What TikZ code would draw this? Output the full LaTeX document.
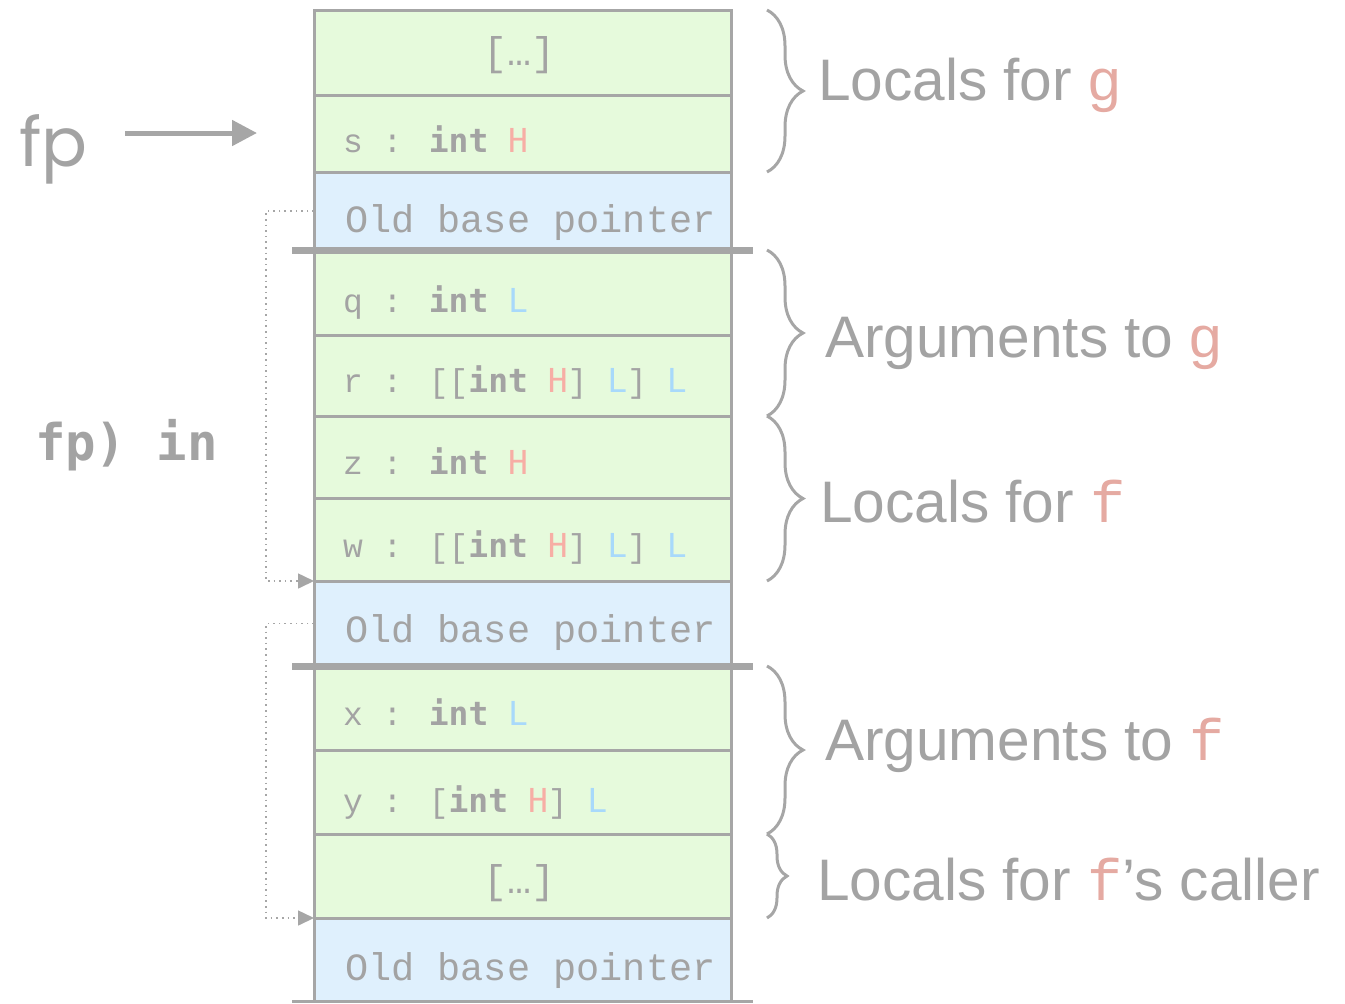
\documentclass[tikz,border=0pt]{standalone}
\usepackage{fontspec}
\setmainfont{Liberation Sans}
\newfontfamily\cellfont{Liberation Mono}
\newfontfamily\typefont{DejaVu Sans Mono}
\newfontfamily\fpfont{Poppins}
\usepackage{tikz}
\usetikzlibrary{arrows.meta, positioning, decorations.pathreplacing}
\definecolor{linegray}{HTML}{A6A6A6}
\definecolor{textgray}{HTML}{A3A3A3}
\definecolor{cellgreen}{HTML}{E6FADC}
\definecolor{cellblue}{HTML}{DFF0FD}
\definecolor{highred}{HTML}{F7AEA5}
\definecolor{lowblue}{HTML}{A8D9FB}
\definecolor{namered}{HTML}{E5AAA2}

\newcommand{\intty}{{\typefont\bfseries int}}
\newcommand{\highH}{{\typefont\color{highred}H}}
\newcommand{\lowL}{{\typefont\color{lowblue}L}}
\newcommand{\fname}[1]{{\cellfont\color{namered}#1}}

\begin{document}
\begin{tikzpicture}[
    x=0.5pt, y=-0.5pt,
    every node/.style={inner sep=0pt, outer sep=0pt, text=textgray},
    cellG/.style={rectangle, draw=linegray, line width=1.5pt, fill=cellgreen, anchor=north west, minimum width=208.5pt},
    cellB/.style={cellG, fill=cellblue},
    celltext/.style={anchor=base west, font=\cellfont\fontsize{16.5}{20}\selectfont},
    obptext/.style={anchor=base west, font=\cellfont\fontsize{19.3}{23}\selectfont},
    ellipsistext/.style={font=\cellfont\fontsize{20}{24}\selectfont},
    sepline/.style={draw=linegray, line width=3.5pt},
    bracelabel/.style={anchor=base west, font=\fontsize{29.3}{35}\selectfont},
    stackbrace/.style={draw=linegray, line width=1.5pt, decorate, decoration={brace, amplitude=18pt}},
    ptrarrow/.style={draw=linegray, line width=0.8pt, dotted, -{Triangle[length=8pt, width=7.5pt]}},
    fparrow/.style={draw=linegray, line width=2.5pt, -{Triangle[length=12.5pt, width=12.5pt]}},
]
\useasboundingbox (0,0) rectangle (1345,1003);
% frame of g
\node[cellG, minimum height=42.5pt] (c1) at (314,10) {}; \node[ellipsistext] (t1) at (520,55) {[…]};
\node[cellG, minimum height=38.5pt] (c2) at (314,95) {}; \node[celltext] (t2) at (343,152) {s : \intty{} \highH};
\node[cellB, minimum height=39pt] (c3) at (314,172) {}; \node[obptext] (t3) at (345,232) {Old base pointer};
\node[cellG, minimum height=42.5pt] (c4) at (314,250) {}; \node[celltext] (t4) at (343,312) {q : \intty{} \lowL};
\node[cellG, minimum height=40.5pt] (c5) at (314,335) {}; \node[celltext] (t5) at (343,392) {r : [[\intty{} \highH] \lowL] \lowL};
% frame of f
\node[cellG, minimum height=41pt] (c6) at (314,416) {}; \node[celltext] (t6) at (343,474) {z : \intty{} \highH};
\node[cellG, minimum height=41.5pt] (c7) at (314,498) {}; \node[celltext] (t7) at (343,557) {w : [[\intty{} \highH] \lowL] \lowL};
\node[cellB, minimum height=42.5pt] (c8) at (314,581) {}; \node[obptext] (t8) at (345,642) {Old base pointer};
\node[cellG, minimum height=42pt] (c9) at (314,666) {}; \node[celltext] (t9) at (343,725) {x : \intty{} \lowL};
\node[cellG, minimum height=42pt] (c10) at (314,750) {}; \node[celltext] (t10) at (343,812) {y : [\intty{} \highH] \lowL};
\node[cellG, minimum height=42pt] (c11) at (314,834) {}; \node[ellipsistext] (t11) at (520,883) {[…]};
\node[cellB, minimum height=41.5pt] (c12) at (314,918) {}; \node[obptext] (t12) at (345,980) {Old base pointer};
\draw[sepline] ([xshift=-11pt]c3.south west) -- ([xshift=11pt]c3.south east);
\draw[sepline] ([xshift=-11pt]c8.south west) -- ([xshift=11pt]c8.south east);
\draw[draw=linegray, line width=1.5pt] ([xshift=-11pt]c12.south west) -- ([xshift=11pt]c12.south east);
\draw[ptrarrow] (c3.west) -- ++(-48,0) |- (c8.north west);
\draw[ptrarrow] (c8.west) -- ++(-48,0) |- (c12.north west);
\node[anchor=base west, font=\fpfont\fontsize{34}{40}\selectfont] (fp) at (19,166) {fp};
\coordinate (fptail) at (125,133);
\coordinate (fphead) at (257,133);
\draw[fparrow] (fptail) -- (fphead);
\node[anchor=base west, font=\typefont\bfseries\fontsize{25.3}{30}\selectfont] (fpin) at (35,460) {fp) in};
\draw[stackbrace] ([xshift=18pt]c1.north east) -- ([xshift=18pt]c2.south east);
\draw[stackbrace] ([xshift=18pt]c4.north east) -- ([xshift=18pt]c5.south east);
\draw[stackbrace] ([xshift=18pt]c6.north east) -- ([xshift=18pt]c7.south east);
\draw[stackbrace] ([xshift=18pt]c9.north east) -- ([xshift=18pt]c10.south east);
\draw[stackbrace, decoration={amplitude=10pt}] ([xshift=18pt]c11.north east) -- ([xshift=18pt]c11.south east);
\node[bracelabel] (l1) at (818,100) {Locals for {\color{namered}g}};
\node[bracelabel] (l2) at (825,357) {Arguments to {\color{namered}g}};
\node[bracelabel] (l3) at (820,522) {Locals for \fname{f}};
\node[bracelabel] (l4) at (825,760) {Arguments to \fname{f}};
\node[bracelabel] (l5) at (817,900) {Locals for \fname{f}’s caller};
\end{tikzpicture}
\end{document}
